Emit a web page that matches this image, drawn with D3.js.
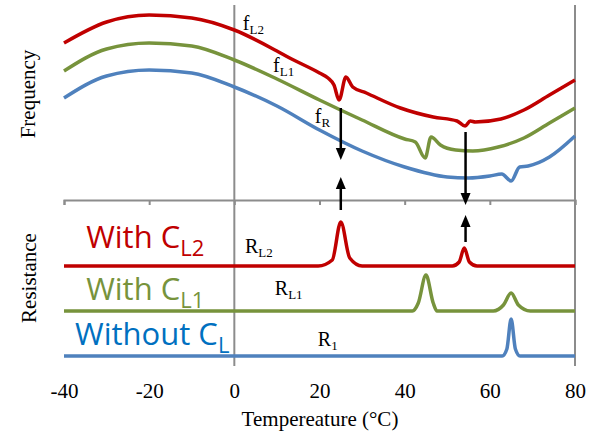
<!DOCTYPE html>
<html>
<head>
<meta charset="utf-8">
<script src="https://cdn.jsdelivr.net/npm/d3@7"></script>
<style>
  body { margin: 0; background: #fff; }
  svg { display: block; }
</style>
</head>
<body>
<div id="chart"></div>
<script>
// temperature axis
var tempDomain = [-40, 80];
var tempTicks = [-40, -20, 0, 20, 40, 60, 80];

// frequency curves, [temperature, frequency (arb. units)]
var freqR = [[-40,102],[-30,124],[-20,130],[-10,127],[0,113],[10,94],[20,70],[30,49],[40,33],
  [50,23],[55,22],[60,24],[62.8,26],[65,19],[67,33],[69,34],[74,43],[80,64]];
var freqL1 = [[-40,129],[-30,151],[-20,157],[-10,154],[0,140],[10,121],[20,100],[30,80],[40,61],
  [42.5,58],[44.8,42],[46.2,63],[48.4,55],[52,50],[56,49],[62,53],[68,62],[74,77],[80,92]];
var freqL2 = [[-40,157],[-30,178],[-20,185],[-10,182],[0,170],[10,149],[13,142],[20,127],[22,122],
  [23.4,115],[24.6,100],[26.2,123],[27.8,113],[31,107],[39,92],[46.7,83],[52.3,79],[54.2,74],
  [55.4,79],[56.6,78],[62.6,81],[68,90],[74,105],[80,120]];

// resistance curves, [temperature, resistance above baseline (arb. units)]
var resR1 = [[-40,0],[62.9,0],[64,0.7],[65,3.7],[66,0.7],[67.1,0],[80,0]];
var resL1 = [[-40,0],[41.8,0],[43.2,0.8],[45,3.6],[46.7,0.8],[47.6,0],[60.8,0],[63.2,0.6],
  [65,1.8],[66.7,0.6],[69.5,0],[80,0]];
var resL2 = [[-40,0],[19.7,0],[23,0.6],[25,4.4],[27.1,0.8],[30,0],[51.2,0],[52.8,0.4],
  [54,1.8],[55.2,0.4],[57,0],[80,0]];
var resBaselines = [1, 5.5, 10];

// arrows [temperature, from, to]
var freqArrows = [[25, 92, 40], [25, -10, 23], [54.3, 68, -5]];
var resArrows = [[54.3, 12.4, 15.1]];

var colors = { red: "#c00000", green: "#77933c", blue: "#4f81bd" };

var width = 594, height = 433;
var svg = d3.select("#chart").append("svg").attr("width", width).attr("height", height);

var x = d3.scaleLinear().domain(tempDomain).range([64, 575]);
var yF = d3.scaleLinear().domain([0, 195]).range([200, 5]);
var yR = d3.scaleLinear().domain([0, 16.5]).range([366, 201]);

var serif = "'Liberation Serif', 'Times New Roman', serif";
var sans = "'Open Sans', 'Noto Sans', sans-serif";

// axes / frame
var axisG = svg.append("g")
  .attr("transform", "translate(0," + yF(0) + ")")
  .call(d3.axisBottom(x).tickValues(tempTicks).tickSize(5).tickFormat(""));
axisG.selectAll("path, line").attr("stroke", "#8c8c8c").attr("stroke-width", 2);

svg.append("line").attr("x1", x(0)).attr("x2", x(0)).attr("y1", yF(195)).attr("y2", yR(0))
  .attr("stroke", "#8c8c8c").attr("stroke-width", 2);
svg.append("line").attr("x1", x(80)).attr("x2", x(80)).attr("y1", yF(195)).attr("y2", yR(0))
  .attr("stroke", "#8c8c8c").attr("stroke-width", 2);

var labelAxis = svg.append("g")
  .attr("transform", "translate(0,383)")
  .call(d3.axisBottom(x).tickValues(tempTicks).tickSize(0).tickPadding(0)
    .tickFormat(function(d) { return String(d); }));
labelAxis.select(".domain").remove();
labelAxis.selectAll("text").attr("font-family", serif).attr("font-size", 21).attr("fill", "#000");

svg.append("text").attr("x", 320).attr("y", 426).attr("text-anchor", "middle")
  .attr("font-family", serif).attr("font-size", 21).text("Tempereature (\u00b0C)");
svg.append("text").attr("transform", "translate(35,94) rotate(-90)").attr("text-anchor", "middle")
  .attr("font-family", serif).attr("font-size", 21).text("Frequency");
svg.append("text").attr("transform", "translate(36,278) rotate(-90)").attr("text-anchor", "middle")
  .attr("font-family", serif).attr("font-size", 21).text("Resistance");

// frequency curves
var fLine = d3.line().x(function(d) { return x(d[0]); }).y(function(d) { return yF(d[1]); })
  .curve(d3.curveMonotoneX);
[[freqR, colors.blue], [freqL1, colors.green], [freqL2, colors.red]].forEach(function(s) {
  svg.append("path").attr("d", fLine(s[0])).attr("fill", "none")
    .attr("stroke", s[1]).attr("stroke-width", 3.5).attr("stroke-linejoin", "round");
});

// resistance curves
[[resR1, colors.blue], [resL1, colors.green], [resL2, colors.red]].forEach(function(s, i) {
  var base = resBaselines[i];
  var rLine = d3.line().x(function(d) { return x(d[0]); }).y(function(d) { return yR(d[1] + base); })
    .curve(d3.curveMonotoneX);
  svg.append("path").attr("d", rLine(s[0])).attr("fill", "none")
    .attr("stroke", s[1]).attr("stroke-width", 3.5).attr("stroke-linejoin", "round");
});

// arrows
var drawArrow = function(px, y1, y2) {
  var dir = y2 > y1 ? 1 : -1;
  var headLen = 12, headW = 5;
  svg.append("line").attr("x1", px).attr("x2", px).attr("y1", y1).attr("y2", y2 - dir * headLen + dir)
    .attr("stroke", "#000").attr("stroke-width", 2.5);
  svg.append("path")
    .attr("d", "M" + px + "," + y2 + "L" + (px - headW) + "," + (y2 - dir * headLen) +
      "L" + (px + headW) + "," + (y2 - dir * headLen) + "Z")
    .attr("fill", "#000");
};
freqArrows.forEach(function(a) { drawArrow(x(a[0]), yF(a[1]), yF(a[2])); });
resArrows.forEach(function(a) { drawArrow(x(a[0]), yR(a[1]), yR(a[2])); });

// curve labels (with subscript)
var subLabel = function(px, py, main, sub, size, subSize, shift, family, color) {
  var t = svg.append("text").attr("x", px).attr("y", py)
    .attr("font-family", family).attr("font-size", size).attr("fill", color);
  t.append("tspan").text(main);
  t.append("tspan").attr("dy", shift).attr("font-size", subSize).text(sub);
};
var fLabels = [["f", "L2", 2.0, 170], ["f", "L1", 9.1, 128], ["f", "R", 18.9, 77]];
fLabels.forEach(function(l) { subLabel(x(l[2]), yF(l[3]), l[0], l[1], 20, 13, 4, serif, "#000"); });

var rLabels = [["R", "L2", 2.5, 11.3], ["R", "L1", 9.5, 7.1], ["R", "1", 19.6, 2.0]];
rLabels.forEach(function(l) { subLabel(x(l[2]), yR(l[3]), l[0], l[1], 20, 13, 4, serif, "#000"); });

var legendLabels = [["With C", "L2", -34.8, 11.8, colors.red],
  ["With C", "L1", -34.8, 6.6, colors.green],
  ["Without C", "L", -37.4, 2.1, "#0070c0"]];
legendLabels.forEach(function(l) { subLabel(x(l[2]), yR(l[3]), l[0], l[1], 31, 22, 7.5, sans, l[4]); });
</script>
</body>
</html>
